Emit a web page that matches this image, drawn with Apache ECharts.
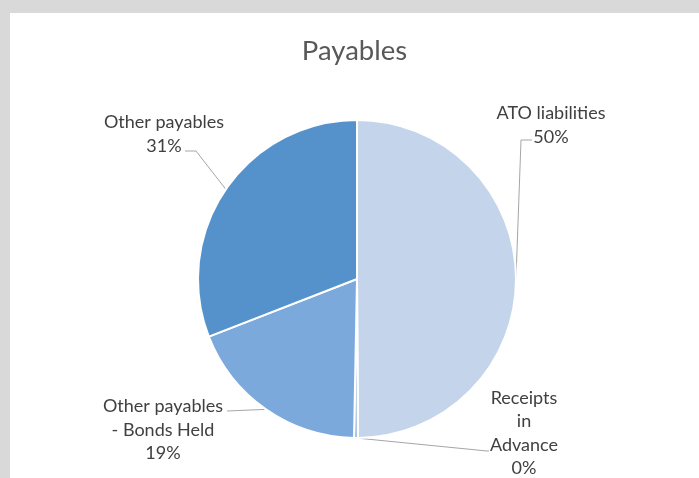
<!DOCTYPE html>
<html>
<head>
<meta charset="utf-8">
<title>Payables</title>
<script src="https://cdn.jsdelivr.net/npm/echarts@6/dist/echarts.min.js"></script>
<style>
  html, body { margin: 0; padding: 0; background: #d9d9d9; }
  body { width: 699px; height: 478px; position: relative; overflow: hidden; }
  #chart { position: absolute; left: 10px; top: 13px; width: 689px; height: 465px; background: #ffffff; }
</style>
</head>
<body>
<div id="chart"></div>
<script>
// Payables breakdown (share of total)
const categories = ['ATO liabilities', 'Receipts\nin\nAdvance', 'Other payables\n- Bonds Held', 'Other payables'];
const values = [49.9, 0.4, 18.8, 30.9];
const colors = ['#c4d5eb', '#a6c1e3', '#7ca9dc', '#5592cb'];

// Where each label block sits and how its leader line bends
const labelPlacement = [
  { x: 541, y: 112, line: function (p) { return [p, [511, 127], [522, 127]]; } },
  { x: 514, y: 420, line: function (p) { return [p, [477, 438], [479, 438]]; } },
  { x: 153, y: 417, line: function (p) { return [p, [217, 398]]; } },
  { x: 154, y: 121, line: function (p) { return [p, [186, 138], [175, 138]]; } }
];

const chart = echarts.init(document.getElementById('chart'), null, { renderer: 'canvas' });

const seriesData = categories.map(function (name, i) {
  return { name: name, value: values[i], itemStyle: { color: colors[i] } };
});

chart.setOption({
  animation: false,
  backgroundColor: '#ffffff',
  title: {
    text: 'Payables',
    left: 'center',
    top: 19,
    textStyle: { fontFamily: 'Lato', fontSize: 27.5, fontWeight: 'normal', color: '#595959' }
  },
  series: [{
    type: 'pie',
    center: [347, 266],
    radius: [0, 159],
    startAngle: 90,
    clockwise: true,
    avoidLabelOverlap: false,
    minAngle: 0,
    itemStyle: { borderColor: '#ffffff', borderWidth: 2 },
    label: {
      show: true,
      position: 'outside',
      fontFamily: 'Lato',
      fontSize: 18,
      lineHeight: 23.5,
      color: '#404040',
      align: 'center',
      formatter: function (p) { return p.name + '\n' + Math.round(p.percent) + '%'; }
    },
    labelLine: {
      show: true,
      lineStyle: { color: '#a6a6a6', width: 1 }
    },
    labelLayout: function (params) {
      const place = labelPlacement[params.dataIndex];
      const edge = params.labelLinePoints ? params.labelLinePoints[0] : [0, 0];
      return {
        x: place.x,
        y: place.y,
        align: 'center',
        verticalAlign: 'middle',
        labelLinePoints: place.line(edge)
      };
    },
    data: seriesData
  }]
});
</script>
</body>
</html>
